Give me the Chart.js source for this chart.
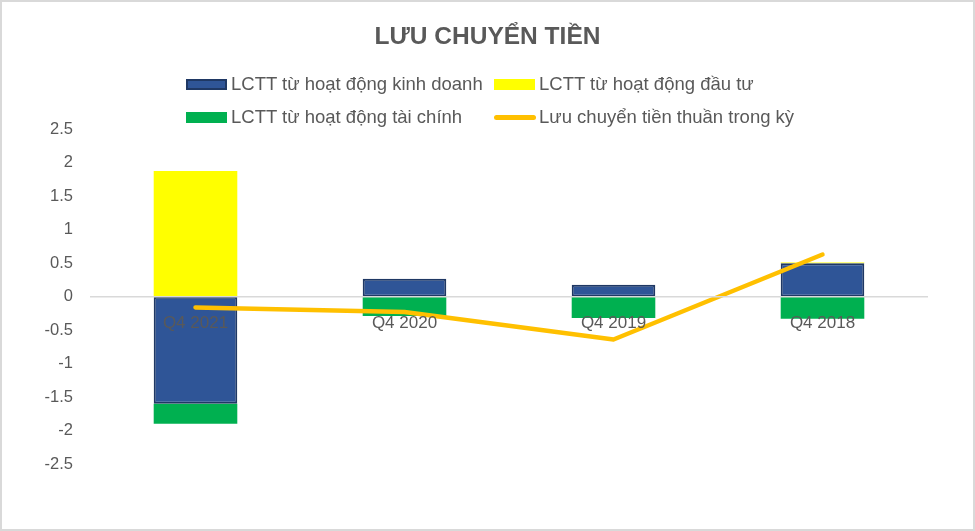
<!DOCTYPE html>
<html>
<head>
<meta charset="utf-8">
<script src="https://cdn.jsdelivr.net/npm/chart.js@4.4.1/dist/chart.umd.min.js"></script>
<style>
  html, body { margin: 0; padding: 0; background: #fff; }
  #wrap { position: relative; width: 975px; height: 531px; }
  #frame { position: absolute; left: 0; top: 0; width: 975px; height: 531px; box-sizing: border-box; border: 2px solid #D9D9D9; pointer-events: none; }
  .lg { position: absolute; font-family: "Liberation Sans", Arial, sans-serif; font-size: 18.5px; color: #595959; white-space: nowrap; line-height: 22px; }
  .sw { position: absolute; }
</style>
</head>
<body>
<div id="wrap">
  <canvas id="c" width="975" height="531"></canvas>
  <div id="legend"></div>
  <div id="frame"></div>
</div>
<script>
const categories = ["Q4 2021", "Q4 2020", "Q4 2019", "Q4 2018"];
const operating = [-1.60, 0.27, 0.18, 0.50];
const investing = [1.88, 0.00, 0.00, 0.01];
const financing = [-0.30, -0.29, -0.32, -0.33];
const netFlow = [-0.16, -0.23, -0.64, 0.63];
const yTicks = [2.5, 2, 1.5, 1, 0.5, 0, -0.5, -1, -1.5, -2, -2.5];

const seriesNames = [
  "LCTT từ hoạt động kinh doanh",
  "LCTT từ hoạt động đầu tư",
  "LCTT từ hoạt động tài chính",
  "Lưu chuyển tiền thuần trong kỳ"
];

const ctx = document.getElementById('c');
const chart = new Chart(ctx, {
  data: {
    labels: categories,
    datasets: [
      { type: 'bar', label: seriesNames[0], data: operating, backgroundColor: '#2F5597', borderColor: '#1F3864', borderWidth: 2, borderSkipped: false, stack: 'bars', order: 1, categoryPercentage: 1, barPercentage: 0.4 },
      { type: 'bar', label: seriesNames[1], data: investing, backgroundColor: '#FFFF00', borderWidth: 0, stack: 'bars', order: 1, categoryPercentage: 1, barPercentage: 0.4 },
      { type: 'bar', label: seriesNames[2], data: financing, backgroundColor: '#00B050', borderWidth: 0, stack: 'bars', order: 1, categoryPercentage: 1, barPercentage: 0.4 },
      { type: 'line', label: seriesNames[3], data: netFlow, borderColor: '#FFC000', backgroundColor: '#FFC000', borderWidth: 4.5, pointRadius: 0, tension: 0, borderCapStyle: 'round', borderJoinStyle: 'round', stack: 'net', order: 0 }
    ]
  },
  options: {
    responsive: false,
    animation: false,
    layout: { padding: { top: 0, left: 0, right: 0, bottom: 67 } },
    plugins: {
      legend: { display: false },
      tooltip: { enabled: false },
      title: {
        display: true,
        text: 'LƯU CHUYỂN TIỀN',
        color: '#595959',
        font: { family: '"Liberation Sans", Arial, sans-serif', size: 24.5, weight: 'bold' },
        padding: { top: 23, bottom: 77 }
      }
    },
    scales: {
      x: {
        position: { y: 0 },
        offset: true,
        grid: { display: false, drawTicks: false },
        border: { display: true, color: '#D9D9D9', width: 1.5, z: 1 },
        ticks: { z: 1, color: '#595959', padding: 16, font: { family: '"Liberation Sans", Arial, sans-serif', size: 17 } }
      },
      y: {
        stacked: true,
        min: -2.5, max: 2.5,
        afterBuildTicks: (scale) => { scale.ticks = yTicks.map(v => ({ value: v })); },
        afterFit: (scale) => { scale.width = 91; },
        grid: { display: false, drawTicks: false },
        border: { display: false },
        ticks: { color: '#595959', padding: 18, font: { family: '"Liberation Sans", Arial, sans-serif', size: 16.5 }, callback: (v) => String(v) }
      },
      yRight: {
        type: 'linear',
        position: 'right',
        min: -2.5, max: 2.5,
        afterFit: (scale) => { scale.width = 48; },
        grid: { display: false, drawTicks: false },
        border: { display: false },
        ticks: { display: false }
      }
    }
  }
});

// Legend (two rows x two columns), built from the datasets
const legendPos = [
  { x: 186, y: 84 }, { x: 494, y: 84 },
  { x: 186, y: 117 }, { x: 494, y: 117 }
];
const lg = document.getElementById('legend');
chart.data.datasets.forEach((ds, i) => {
  const p = legendPos[i];
  const sw = document.createElement('div');
  sw.className = 'sw';
  if (ds.type === 'line') {
    Object.assign(sw.style, { left: p.x + 'px', top: (p.y - 2.5) + 'px', width: '42px', height: '5px', borderRadius: '3px', background: ds.borderColor });
  } else {
    const bw = ds.borderWidth ? 2 : 0;
    Object.assign(sw.style, { left: p.x + 'px', top: (p.y - 5.5) + 'px', width: '41px', height: '11px', boxSizing: 'border-box', background: ds.backgroundColor, border: bw ? (bw + 'px solid ' + ds.borderColor) : 'none' });
  }
  lg.appendChild(sw);
  const t = document.createElement('div');
  t.className = 'lg';
  t.textContent = ds.label;
  Object.assign(t.style, { left: (p.x + 45) + 'px', top: (p.y - 11) + 'px' });
  lg.appendChild(t);
});
</script>
</body>
</html>
